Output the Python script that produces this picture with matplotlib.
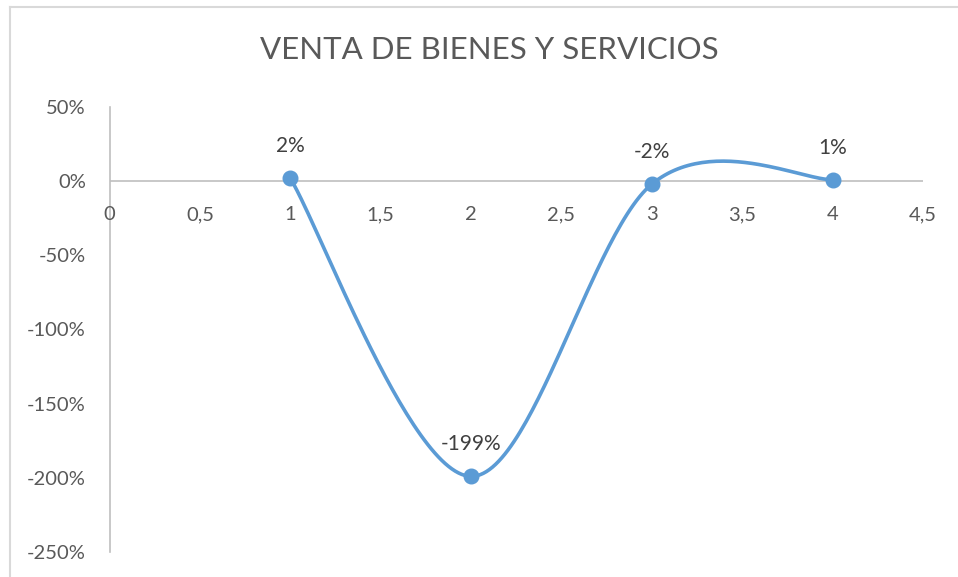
import numpy as np
import matplotlib
matplotlib.use("Agg")
import matplotlib.pyplot as plt

title = "VENTA DE BIENES Y SERVICIOS"
x_vals = [1, 2, 3, 4]
y_vals = [0.02, -1.99, -0.02, 0.01]
labels = ["2%", "-199%", "-2%", "1%"]
x_ticks = [0, 0.5, 1, 1.5, 2, 2.5, 3, 3.5, 4, 4.5]
x_ticklabels = ["0", "0,5", "1", "1,5", "2", "2,5", "3", "3,5", "4", "4,5"]
y_ticks = [0.5, 0, -0.5, -1.0, -1.5, -2.0, -2.5]
y_ticklabels = ["50%", "0%", "-50%", "-100%", "-150%", "-200%", "-250%"]

plt.rcParams['font.family'] = ['Lato', 'DejaVu Sans']
W, H = 958, 577
fig = plt.figure(figsize=(W / 100, H / 100), dpi=100)

# chart border (left and top visible)
fig.add_artist(plt.Line2D([9.5 / W, 9.5 / W], [0, 1 - 6.5 / H], color="#d9d9d9", lw=1.5))
fig.add_artist(plt.Line2D([9.5 / W, 1], [1 - 6.5 / H, 1 - 6.5 / H], color="#d9d9d9", lw=1.5))

ax = fig.add_axes([109.5 / W, (H - 552) / H, (923 - 109.5) / W, (552 - 107) / H])
ax.set_xlim(0, 4.5)
ax.set_ylim(-2.5, 0.5)

# Excel-style smoothed curve (Catmull-Rom Bezier)
P = np.column_stack([x_vals, y_vals]).astype(float)
n = len(P)
curve = []
t = np.linspace(0, 1, 60)
for i in range(n - 1):
    p0 = P[i - 1] if i > 0 else P[i]
    p1 = P[i]
    p2 = P[i + 1]
    p3 = P[i + 2] if i + 2 < n else P[i + 1]
    c1 = p1 + (p2 - p0) / 6
    c2 = p2 - (p3 - p1) / 6
    seg = ((1 - t) ** 3)[:, None] * p1 + (3 * (1 - t) ** 2 * t)[:, None] * c1 \
        + (3 * (1 - t) * t ** 2)[:, None] * c2 + (t ** 3)[:, None] * p2
    curve.append(seg)
curve = np.vstack(curve)

color = "#5b9bd5"
ax.plot(curve[:, 0], curve[:, 1], color=color, lw=2.6, solid_capstyle="round", zorder=3)
ax.plot(x_vals, y_vals, "o", color=color, ms=10.5, zorder=4)

for xv, yv, lb in zip(x_vals, y_vals, labels):
    ax.annotate(lb, (xv, yv), xytext=(0, 23), textcoords="offset points",
                ha="center", va="center", fontsize=15, color="#404040")

for s in ["top", "right", "bottom"]:
    ax.spines[s].set_visible(False)
ax.spines["left"].set_color("#bfbfbf")
ax.spines["left"].set_linewidth(1.2)
ax.axhline(0, color="#bfbfbf", lw=1.2, zorder=1)

ax.set_yticks(y_ticks)
ax.set_yticklabels(y_ticklabels)
ax.set_xticks(x_ticks)
ax.set_xticklabels([])
ax.tick_params(axis="both", length=0, labelsize=14.5, colors="#595959")
ax.tick_params(axis="y", pad=17)
for xv, lb in zip(x_ticks, x_ticklabels):
    ax.annotate(lb, (xv, 0), xytext=(0, -24), textcoords="offset points",
                ha="center", va="center", fontsize=14.5, color="#595959")

fig.text((262 + 717) / 2 / W, 1 - 50 / H, title, ha="center", va="center",
         fontsize=22.5, color="#595959")

fig.savefig("out.png", dpi=100)
